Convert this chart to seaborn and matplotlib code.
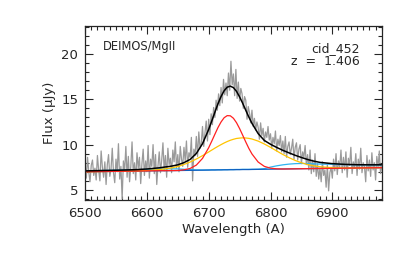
import numpy as np
import pandas as pd
import matplotlib
matplotlib.use("Agg")
import matplotlib.pyplot as plt
from matplotlib.ticker import MultipleLocator
import seaborn as sns

spec_start, spec_step = 6500, 2
spec_flux = [
    7.9, 6.3, 8.6, 7.0, 5.9, 7.7, 8.3, 6.6, 7.4, 6.1,
    8.8, 7.2, 6.0, 9.3, 7.5, 6.4, 8.1, 5.6, 7.8, 8.9,
    6.5, 7.3, 9.6, 6.9, 5.8, 8.4, 7.0, 10.1, 6.2, 7.6,
    4.0, 8.2, 7.1, 9.8, 6.4, 8.7, 5.9, 7.6, 10.3, 6.8,
    8.0, 6.1, 9.1, 7.4, 8.6, 5.7, 7.9, 9.5, 6.6, 8.2,
    7.0, 9.9, 6.3, 8.4, 7.6, 10.0, 6.8, 8.9, 5.6, 7.7,
    9.2, 6.9, 8.3, 10.2, 7.1, 8.8, 6.4, 9.6, 7.8, 8.5,
    6.9, 9.4, 8.1, 10.3, 7.4, 8.9, 7.0, 9.8, 8.4, 7.6,
    9.7, 8.2, 10.4, 7.5, 9.1, 8.6, 10.8, 6.0, 9.5, 8.8,
    10.9, 8.7, 11.4, 9.6, 10.2, 12.0, 9.8, 11.3, 12.6, 10.4,
    12.8, 11.1, 13.4, 12.2, 14.1, 13.0, 14.9, 13.8, 15.6, 14.3,
    16.3, 14.6, 17.2, 15.5, 16.8, 15.4, 17.9, 16.0, 19.2, 16.6,
    17.8, 15.4, 18.3, 15.1, 16.9, 14.8, 16.2, 15.6, 14.0, 15.3,
    14.9, 12.8, 14.2, 13.5, 12.4, 13.8, 12.0, 12.9, 11.6, 12.5,
    11.9, 10.6, 12.4, 11.0, 11.8, 10.3, 11.4, 10.8, 12.0, 10.5,
    11.2, 9.6, 10.8, 10.1, 11.5, 9.3, 10.6, 9.9, 11.0, 9.2,
    10.4, 9.0, 10.9, 8.6, 9.8, 10.3, 8.9, 9.6, 10.6, 8.4,
    9.7, 10.2, 8.3, 9.5, 10.0, 7.9, 9.2, 8.6, 9.9, 7.8,
    8.9, 7.2, 9.4, 6.8, 8.3, 7.0, 9.0, 6.5, 7.9, 6.2,
    7.4, 5.9, 8.1, 6.6, 7.2, 5.3, 7.8, 4.9, 6.9, 7.5,
    6.3, 8.4, 7.1, 9.0, 6.7, 8.2, 7.5, 9.4, 6.9, 8.6,
    7.2, 9.2, 6.4, 8.5, 7.7, 9.7, 6.8, 8.1, 7.4, 9.0,
    6.6, 8.4, 7.3, 9.6, 6.9, 8.0, 7.6, 5.9, 8.8, 7.1,
    8.3, 6.5, 9.1, 7.2, 8.0, 6.1, 8.7, 7.4, 9.3, 6.8,
    7.6,
]
spec_wave = [spec_start + spec_step * i for i in range(len(spec_flux))]

# fit components sampled on a common wavelength grid
model_wave = [6500, 6520, 6540, 6560, 6580, 6600, 6620, 6640, 6650, 6660,
              6670, 6680, 6690, 6700, 6705, 6710, 6715, 6720, 6725, 6730,
              6735, 6740, 6745, 6750, 6755, 6760, 6765, 6770, 6780, 6790,
              6800, 6810, 6820, 6830, 6840, 6850, 6860, 6870, 6880, 6900,
              6920, 6940, 6960, 6980]
continuum = [7.00, 7.02, 7.04, 7.06, 7.08, 7.10, 7.12, 7.13, 7.14, 7.15,
             7.16, 7.17, 7.18, 7.19, 7.20, 7.20, 7.21, 7.21, 7.22, 7.22,
             7.23, 7.23, 7.24, 7.24, 7.25, 7.25, 7.25, 7.26, 7.27, 7.28,
             7.29, 7.30, 7.31, 7.32, 7.33, 7.34, 7.35, 7.36, 7.37, 7.38,
             7.40, 7.42, 7.44, 7.46]
fe_model = [7.10, 7.13, 7.16, 7.19, 7.22, 7.27, 7.32, 7.33, 7.32, 7.28,
            7.24, 7.21, 7.20, 7.21, 7.22, 7.22, 7.23, 7.23, 7.24, 7.24,
            7.25, 7.25, 7.26, 7.26, 7.27, 7.27, 7.27, 7.28, 7.29, 7.35,
            7.52, 7.66, 7.77, 7.85, 7.90, 7.92, 7.91, 7.88, 7.85, 7.83,
            7.80, 7.78, 7.77, 7.77]
broad_line = [7.00, 7.02, 7.04, 7.06, 7.09, 7.14, 7.24, 7.43, 7.59, 7.81,
              8.08, 8.41, 8.78, 9.19, 9.40, 9.61, 9.81, 10.00, 10.18, 10.34,
              10.48, 10.59, 10.68, 10.72, 10.75, 10.73, 10.69, 10.62, 10.39, 10.07,
              9.70, 9.30, 8.91, 8.56, 8.25, 8.00, 7.80, 7.66, 7.56, 7.45,
              7.42, 7.42, 7.44, 7.46]
narrow_line = [7.00, 7.02, 7.04, 7.06, 7.08, 7.10, 7.12, 7.13, 7.14, 7.22,
               7.37, 7.74, 8.48, 9.66, 10.39, 11.14, 11.88, 12.50, 12.97, 13.20,
               13.18, 12.91, 12.42, 11.77, 11.04, 10.29, 9.58, 8.97, 8.08, 7.60,
               7.40, 7.33, 7.31, 7.32, 7.33, 7.34, 7.35, 7.36, 7.37, 7.38,
               7.40, 7.42, 7.44, 7.46]
total_model = [7.10, 7.13, 7.16, 7.19, 7.23, 7.31, 7.44, 7.63, 7.77, 8.01,
               8.37, 9.02, 10.10, 11.68, 12.61, 13.57, 14.50, 15.31, 15.95, 16.34,
               16.45, 16.29, 15.88, 15.27, 14.56, 13.79, 13.04, 12.35, 11.22, 10.46,
               10.04, 9.69, 9.37, 9.09, 8.82, 8.58, 8.36, 8.18, 8.04, 7.90,
               7.82, 7.78, 7.77, 7.77]

x_ticks = [6500, 6600, 6700, 6800, 6900]
y_ticks = [5, 10, 15, 20]

sns.set_style("ticks")
plt.rcParams['font.family'] = ['DejaVu Sans']
plt.rcParams['xtick.direction'] = 'in'
plt.rcParams['ytick.direction'] = 'in'

fig = plt.figure(figsize=(4.07, 2.54), dpi=100)
ax = fig.add_axes([0.209, 0.213, 0.729, 0.685])

spec = pd.DataFrame({'wave': spec_wave, 'flux': spec_flux})
sns.lineplot(data=spec, x='wave', y='flux', ax=ax, color='#9a9a9a', lw=0.9)

comps = pd.DataFrame({'wave': model_wave, 'cont': continuum, 'fe': fe_model,
                      'broad': broad_line, 'narrow': narrow_line, 'total': total_model})
sns.lineplot(data=comps, x='wave', y='fe', ax=ax, color='#2fb4f0', lw=0.9)
sns.lineplot(data=comps, x='wave', y='cont', ax=ax, color='#1060c0', lw=0.9)
sns.lineplot(data=comps, x='wave', y='broad', ax=ax, color='#ffc400', lw=0.9)
sns.lineplot(data=comps, x='wave', y='narrow', ax=ax, color='#ff2020', lw=0.9)
sns.lineplot(data=comps, x='wave', y='total', ax=ax, color='black', lw=1.1)

ax.set_xlim(6500, 6980)
ax.set_ylim(3.9, 23.1)
ax.set_xticks(x_ticks)
ax.set_yticks(y_ticks)
ax.xaxis.set_minor_locator(MultipleLocator(10))
ax.yaxis.set_minor_locator(MultipleLocator(1))
ax.tick_params(which='both', top=True, right=True, labelsize=9.5, width=0.8, pad=5)
ax.tick_params(which='major', length=6)
ax.tick_params(which='minor', length=3)
for sp in ax.spines.values():
    sp.set_linewidth(0.9)

ax.set_xlabel('Wavelength (A)', fontsize=9.5, labelpad=2)
ax.set_ylabel('Flux (μJy)', fontsize=9.5, labelpad=4)

ax.text(0.06, 0.88, 'DEIMOS/MgII', transform=ax.transAxes, fontsize=8.3,
        ha='left', va='center')
ax.text(0.925, 0.87, 'cid_452', transform=ax.transAxes, fontsize=9,
        ha='right', va='center')
ax.text(0.925, 0.795, 'z  =  1.406', transform=ax.transAxes, fontsize=9,
        ha='right', va='center')

fig.savefig('out.png', dpi=100)
